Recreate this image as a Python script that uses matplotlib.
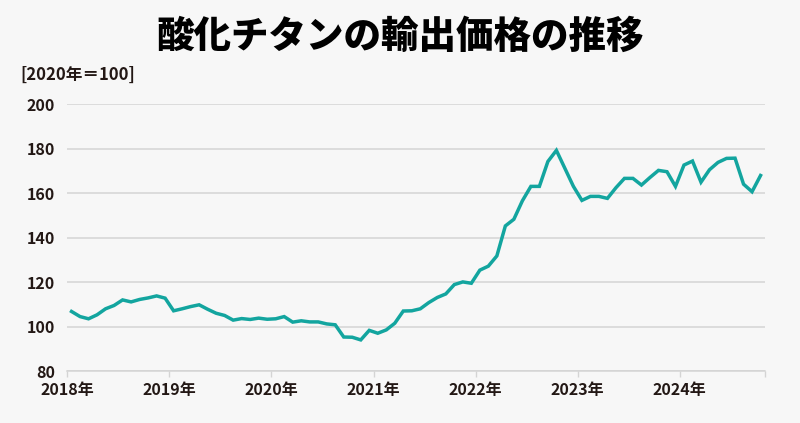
import matplotlib
matplotlib.use("Agg")
import matplotlib.pyplot as plt

plt.rcParams['font.family'] = ['Noto Sans CJK JP', 'DejaVu Sans']

# Monthly index values, Jan 2018 - Oct 2024 (2020 = 100)
values = [
    106.8, 104.5, 103.5, 105.3, 108.0, 109.5, 112.0, 111.1, 112.2, 112.9, 113.8, 112.8,
    107.1, 108.0, 109.0, 109.8, 107.8, 106.0, 105.0, 102.9, 103.6, 103.2, 103.8, 103.3,
    103.5, 104.5, 102.0, 102.6, 102.1, 102.1, 101.2, 100.8, 95.3, 95.2, 94.0, 98.3,
    97.0, 98.5, 101.5, 107.0, 107.1, 108.0, 110.8, 113.1, 114.7, 118.9, 120.1, 119.5,
    125.4, 127.2, 131.8, 145.3, 148.3, 156.6, 163.1, 163.1, 174.3, 179.3, 171.2, 163.1,
    156.8, 158.6, 158.6, 157.7, 162.5, 166.7, 166.7, 163.7, 167.1, 170.3, 169.7, 163.1,
    172.7, 174.5, 165.0, 170.6, 173.9, 175.7, 175.8, 164.1, 160.7, 168.0,
]
year_labels = ["2018年", "2019年", "2020年", "2021年", "2022年", "2023年", "2024年"]
y_ticks = [80, 100, 120, 140, 160, 180, 200]
title = "酸化チタンの輸出価格の推移"
unit_label = "[2020年＝100]"

bg = "#f7f7f7"
line_color = "#13a59f"
text_color = "#231815"
grid_color = "#d4d4d4"

fig = plt.figure(figsize=(8, 4.23), dpi=100, facecolor=bg)
ax = fig.add_axes([0.0841, 0.1229, 0.8719, 0.6303], facecolor=bg)

x = [i + 0.5 for i in range(len(values))]
ax.plot(x, values, color=line_color, lw=2.5, solid_joinstyle='miter', zorder=3)

n_months = len(values)
ax.set_xlim(0, n_months)
ax.set_ylim(80, 200)

ax.set_yticks(y_ticks)
ax.set_yticklabels([str(v) for v in y_ticks], fontsize=11.5, fontweight='bold', color=text_color)
ax.tick_params(axis='y', length=0, pad=9)
ax.yaxis.grid(True, color=grid_color, lw=1.1)
ax.set_axisbelow(True)

tick_pos = [12 * k for k in range(len(year_labels))] + [n_months]
ax.set_xticks(tick_pos)
ax.set_xticklabels(year_labels + [""], fontsize=11.5, fontweight='bold', color=text_color)
ax.tick_params(axis='x', length=4, width=1, color=grid_color, pad=4)

for s in ['top', 'right', 'left']:
    ax.spines[s].set_visible(False)
ax.spines['bottom'].set_color(grid_color)
ax.spines['bottom'].set_linewidth(1.1)

fig.text(0.5, 0.912, title, ha='center', va='center', fontsize=27,
         fontweight='heavy', color='#000000')
fig.text(0.026, 0.823, unit_label, ha='left', va='center', fontsize=12,
         fontweight='bold', color=text_color)

fig.savefig("out.png", dpi=100, facecolor=bg)
